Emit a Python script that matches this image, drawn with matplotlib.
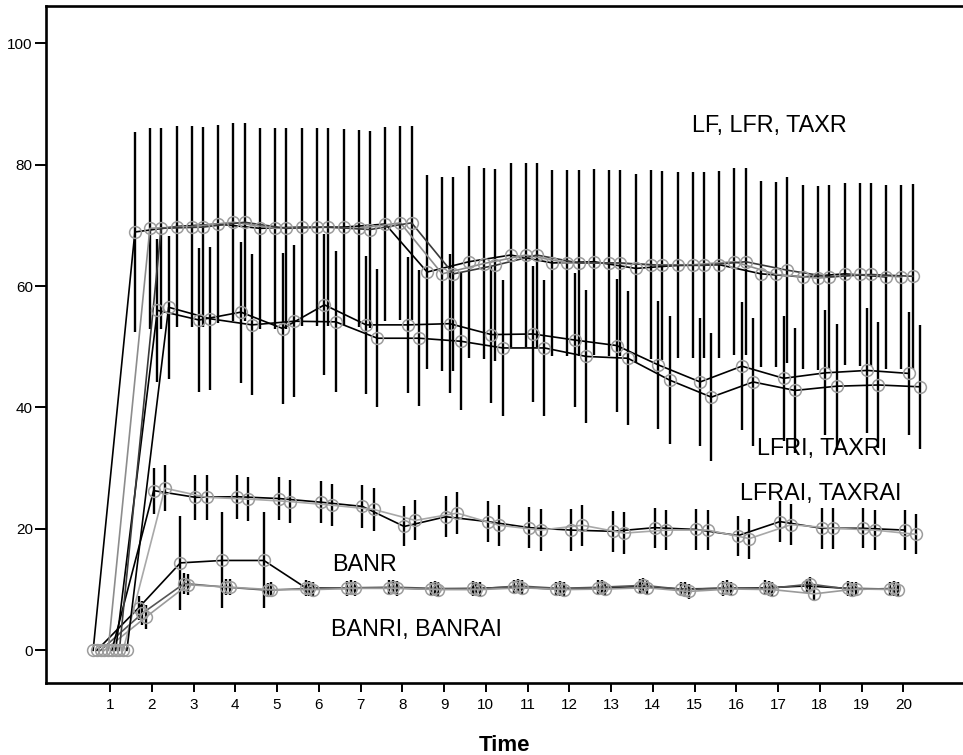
import numpy as np
import matplotlib
matplotlib.use("Agg")
import matplotlib.pyplot as plt

plt.rcParams['font.family'] = ['Liberation Sans', 'DejaVu Sans']

# ---- data -------------------------------------------------------------
time = list(range(1, 21))

# series in dodge order (left to right within each time point)
series_names = ["LF", "BANR", "BANRI", "BANRAI", "LFR",
                "LFRAI", "LFRI", "TAXR", "TAXRAI", "TAXRI"]

LF = [0, 68.9, 69.8, 70.2, 69.5, 69.7, 69.7, 70.2, 62.3, 64.0,
      65.1, 63.8, 64.0, 62.9, 63.4, 63.5, 62.0, 61.5, 62.0, 61.5]
LFR = [0, 69.5, 69.8, 70.5, 69.5, 69.7, 69.5, 70.4, 62.0, 63.7,
       65.1, 63.8, 63.8, 63.5, 63.5, 64.0, 61.9, 61.3, 61.9, 61.5]
TAXR = [0, 69.5, 69.7, 70.5, 69.5, 69.7, 69.3, 70.4, 62.0, 63.4,
        65.1, 63.8, 63.8, 63.4, 63.4, 64.0, 62.6, 61.5, 61.9, 61.6]

LFRI = [0, 56.0, 54.4, 55.7, 53.0, 56.9, 53.6, 53.6, 53.8, 52.0,
        52.1, 51.1, 50.2, 47.0, 44.2, 46.8, 44.8, 45.7, 46.1, 45.6]
TAXRI = [0, 56.5, 54.6, 53.6, 54.2, 54.1, 51.4, 51.4, 50.9, 49.8,
         49.8, 48.4, 48.1, 44.5, 41.7, 44.2, 42.8, 43.5, 43.7, 43.4]

LFRAI = [0, 26.3, 25.2, 25.3, 25.0, 24.4, 23.7, 20.4, 22.0, 21.2,
         20.2, 19.8, 19.6, 20.2, 19.9, 18.9, 21.2, 20.1, 20.1, 19.8]
TAXRAI = [0, 26.7, 25.2, 24.9, 24.5, 23.9, 23.2, 21.4, 22.6, 20.6,
          19.8, 20.6, 19.3, 19.8, 19.8, 18.4, 20.7, 20.1, 19.8, 19.1]

BANR = [0, 7.0, 14.4, 14.8, 14.8, 10.3, 10.2, 10.3, 10.1, 10.2,
        10.4, 10.1, 10.3, 10.5, 10.1, 10.2, 10.3, 10.6, 10.2, 10.1]
BANRI = [0, 6.1, 11.0, 10.4, 9.9, 10.2, 10.3, 10.4, 10.2, 10.1,
         10.6, 10.2, 10.4, 10.7, 10.0, 10.3, 10.2, 10.9, 10.0, 10.2]
BANRAI = [0, 5.5, 10.8, 10.4, 10.0, 10.0, 10.2, 10.2, 10.0, 10.0,
          10.3, 10.0, 10.1, 10.3, 9.7, 10.1, 10.0, 9.3, 10.1, 10.0]

# half-widths of the error bars
ERR_A = [0, 16.5, 16.5, 16.3, 16.5, 16.3, 16.2, 16.0, 16.0, 15.8,
         15.2, 15.3, 15.3, 15.6, 15.3, 15.4, 15.3, 15.2, 15.0, 15.2]
ERR_B = [0, 11.8, 11.8, 11.6, 12.5, 11.6, 11.4, 11.2, 11.4, 11.2,
         11.2, 11.0, 11.0, 10.5, 10.5, 10.5, 10.3, 10.3, 10.3, 10.2]
ERR_C = [0, 3.8, 3.7, 3.6, 3.6, 3.5, 3.5, 3.3, 3.4, 3.4,
         3.4, 3.4, 3.4, 3.3, 3.3, 3.3, 3.4, 3.4, 3.3, 3.3]
ERR_BANR = [0, 2.0, 7.8, 7.9, 7.9, 1.3, 1.2, 1.2, 1.2, 1.2,
            1.2, 1.2, 1.2, 1.2, 1.2, 1.2, 1.2, 1.2, 1.2, 1.2]
ERR_BAN = [0, 2.0, 1.7, 1.3, 1.2, 1.2, 1.2, 1.2, 1.2, 1.2,
           1.2, 1.2, 1.2, 1.2, 1.2, 1.2, 1.2, 1.2, 1.2, 1.2]

values = {"LF": LF, "LFR": LFR, "TAXR": TAXR, "LFRI": LFRI, "TAXRI": TAXRI,
          "LFRAI": LFRAI, "TAXRAI": TAXRAI, "BANR": BANR, "BANRI": BANRI,
          "BANRAI": BANRAI}
errors = {"LF": ERR_A, "LFR": ERR_A, "TAXR": ERR_A, "LFRI": ERR_B,
          "TAXRI": ERR_B, "LFRAI": ERR_C, "TAXRAI": ERR_C,
          "BANR": ERR_BANR, "BANRI": ERR_BAN, "BANRAI": ERR_BAN}

group_labels = ["LF, LFR, TAXR", "LFRI, TAXRI", "LFRAI, TAXRAI",
                "BANR", "BANRI, BANRAI"]
label_pos = [(14.94, 86.5), (16.50, 33.2), (16.09, 25.8),
             (6.32, 14.2), (6.29, 3.5)]

# ---- styling ----------------------------------------------------------
line_colors = {"LF": "#000000", "BANR": "#000000", "BANRI": "#555555",
               "BANRAI": "#9a9a9a", "LFR": "#8c8c8c", "LFRAI": "#000000",
               "LFRI": "#000000", "TAXR": "#3a3a3a", "TAXRAI": "#a8a8a8",
               "TAXRI": "#000000"}

fig = plt.figure(figsize=(9.63, 7.55), dpi=100)
ax = fig.add_axes([46 / 963, (755 - 682.5) / 755, (963 - 46) / 963,
                   (682.5 - 5.5) / 755])

n = len(series_names)
step = 0.0898
t = np.array(time, dtype=float)

for i, name in enumerate(series_names):
    x = t + (i - (n - 1) / 2) * step
    y = np.array(values[name])
    e = np.array(errors[name])
    ax.errorbar(x, y, yerr=e, fmt='none', ecolor='black',
                elinewidth=1.7, capsize=0, zorder=2)

for i, name in enumerate(series_names):
    x = t + (i - (n - 1) / 2) * step
    y = np.array(values[name])
    ax.plot(x, y, color=line_colors[name], lw=1.2, zorder=3)
    ax.plot(x, y, 'o', mfc='none', mec='#9c9c9c', ms=8.5, mew=1.1,
            zorder=4)

for txt, (px, py) in zip(group_labels, label_pos):
    ax.text(px, py, txt, ha='left', va='center', fontsize=16.8,
            color='black')

ax.set_xlim(-0.533, 21.43)
ax.set_ylim(-5.3, 106.2)
ax.set_xticks(time)
ax.set_yticks([0, 20, 40, 60, 80, 100])
ax.tick_params(axis='x', length=6.5, width=1.4, pad=5, labelsize=11)
ax.tick_params(axis='y', length=8, width=1.4, pad=1.5, labelsize=11)
ax.spines['right'].set_visible(False)
for s in ['left', 'top', 'bottom']:
    ax.spines[s].set_linewidth(1.9)
ax.set_xlabel("Time", fontsize=16, fontweight='bold', labelpad=16)

fig.savefig("out.png", dpi=100)
